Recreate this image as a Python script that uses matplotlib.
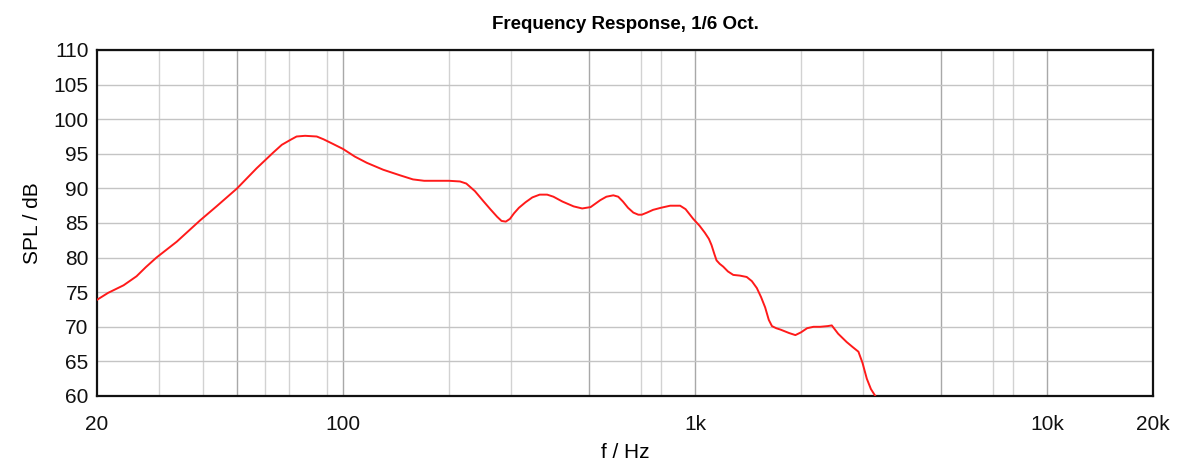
import matplotlib
matplotlib.use("Agg")
import matplotlib.pyplot as plt
from matplotlib.ticker import FixedLocator, NullLocator, FixedFormatter

plt.rcParams['font.family'] = ['Liberation Sans', 'DejaVu Sans']

# Frequency response data (Hz, dB SPL)
freq_hz = [20, 21.5, 23.8, 25.9, 27.5, 29.5, 33.7, 39.3, 43.7, 50, 56.8, 63.4,
           67, 70.8, 73.8, 78, 84.2, 88, 93, 100, 108, 116.8, 130, 145, 158,
           170, 200, 215, 224, 237, 250, 262, 274, 282, 290, 298, 306, 316,
           330, 345, 362, 380, 396, 420, 452, 478, 505, 538, 560, 586, 605,
           624, 645, 668, 690, 706, 730, 760, 800, 850, 907, 940, 988, 1030,
           1066, 1095, 1114, 1135, 1151, 1175, 1202, 1240, 1284, 1340, 1402,
           1450, 1498, 1540, 1582, 1620, 1654, 1700, 1748, 1850, 1928, 2000,
           2082, 2170, 2267, 2380, 2446, 2550, 2696, 2800, 2912, 2990, 3076,
           3160, 3252, 3400]
spl_db = [73.9, 74.9, 76.0, 77.3, 78.6, 80.0, 82.3, 85.4, 87.4, 90.0, 92.9, 95.2,
          96.3, 97.0, 97.5, 97.6, 97.5, 97.1, 96.5, 95.7, 94.6, 93.7, 92.7, 91.9, 91.3,
          91.1, 91.1, 91.0, 90.7, 89.6, 88.2, 87.0, 85.9, 85.3, 85.2, 85.6, 86.4, 87.2,
          88.0, 88.7, 89.1, 89.1, 88.8, 88.1, 87.4, 87.1, 87.3, 88.3, 88.8, 89.0, 88.8,
          88.1, 87.2, 86.5, 86.2, 86.2, 86.5, 86.9, 87.2, 87.5, 87.5, 87.0, 85.6, 84.6,
          83.6, 82.7, 81.8, 80.5, 79.6, 79.1, 78.7, 78.0, 77.5, 77.4, 77.2,
          76.6, 75.6, 74.3, 72.8, 71.0, 70.1, 69.8, 69.6, 69.1, 68.8, 69.2,
          69.8, 70.0, 70.0, 70.1, 70.2, 69.0, 67.8, 67.1, 66.4, 64.8, 62.5,
          61.0, 60.0, 58.5]

y_ticks = [60, 65, 70, 75, 80, 85, 90, 95, 100, 105, 110]
x_tick_pos = [20, 100, 1000, 10000, 20000]
x_tick_labels = ['20', '100', '1k', '10k', '20k']
grid_light = [30, 40, 60, 70, 90, 200, 300, 700, 800, 2000, 3000, 7000, 8000]
grid_dark = [50, 100, 500, 1000, 5000, 10000]

fig = plt.figure(figsize=(11.85, 4.67), dpi=100)
ax = fig.add_axes([97/1185, 1-396/467, (1153-97)/1185, (396-50)/467])

ax.set_xscale('log')
ax.set_xlim(20, 20000)
ax.set_ylim(60, 110)

for g in grid_light:
    ax.axvline(g, color='#d2d2d2', lw=1.0, zorder=1)
for g in grid_dark:
    ax.axvline(g, color='#a8a8a8', lw=1.0, zorder=1)
for yv in y_ticks:
    ax.axhline(yv, color='#c4c4c4', lw=1.0, zorder=1)

ax.plot(freq_hz, spl_db, color='#ff1a1a', lw=1.4, zorder=3, clip_on=True,
        solid_joinstyle='round')

ax.xaxis.set_major_locator(FixedLocator(x_tick_pos))
ax.xaxis.set_major_formatter(FixedFormatter(x_tick_labels))
ax.xaxis.set_minor_locator(NullLocator())
ax.set_yticks(y_ticks)
ax.tick_params(axis='both', length=0, labelsize=15, colors='#111111')
ax.tick_params(axis='x', pad=14)
ax.tick_params(axis='y', pad=6)

for s in ax.spines.values():
    s.set_color('#111111')
    s.set_linewidth(1.6)

ax.set_title('Frequency Response, 1/6 Oct.', fontsize=13.5, fontweight='bold', pad=15)
ax.set_xlabel('f / Hz', fontsize=15, labelpad=6)
ax.set_ylabel('SPL / dB', fontsize=15, labelpad=8)

fig.savefig('out.png', dpi=100, facecolor='white')
